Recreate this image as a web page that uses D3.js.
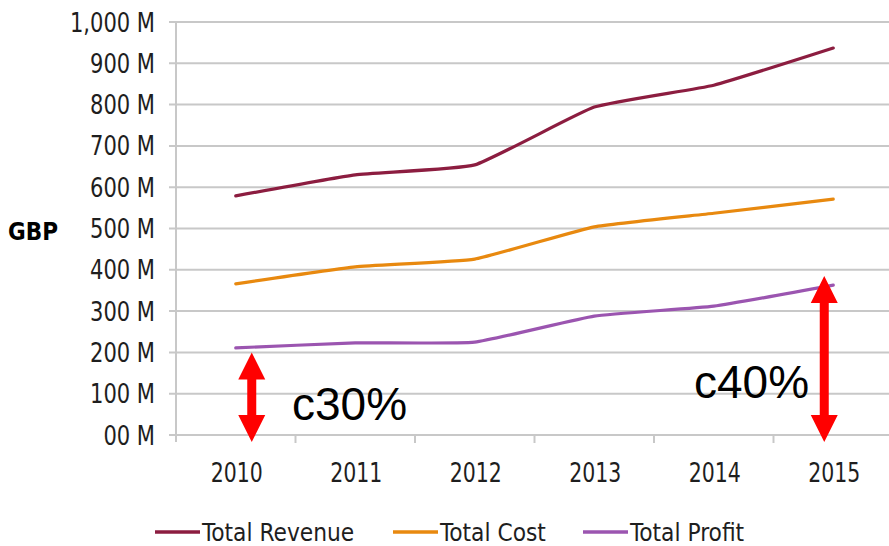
<!DOCTYPE html>
<meta charset="utf-8">
<style>
body { margin: 0; background: #fff; }
text { font-family: "DejaVu Sans Condensed", "DejaVu Sans", sans-serif; fill: #1e1e1e; }
</style>
<body>
<script src="https://d3js.org/d3.v7.min.js"></script>
<script>
var years = ["2010", "2011", "2012", "2013", "2014", "2015"],
	revenue = [579, 630, 654, 794, 847, 937],
	cost = [366, 407, 426, 504, 537, 571],
	profit = [211, 223, 225, 288, 312, 363],
	yTicks = [0, 100, 200, 300, 400, 500, 600, 700, 800, 900, 1000],
	yTickLabels = ["00 M", "100 M", "200 M", "300 M", "400 M", "500 M", "600 M", "700 M", "800 M", "900 M", "1,000 M"],
	seriesNames = ["Total Revenue", "Total Cost", "Total Profit"],
	notes = [{ year: "2010", from: -17, to: 200, label: "c30%" },
	         { year: "2015", from: -17, to: 385, label: "c40%" }];

var width = 889,
	height = 546,
	colors = ["#8c1d40", "#e8890f", "#9b55b0"];

var svg = d3.select("body").append("svg")
			.attr("width", width)
			.attr("height", height);

var x = d3.scaleBand().domain(years).range([176, 893]),
	y = d3.scaleLinear().domain([0, 1000]).range([435, 22]);

function squeeze(px, py, s) {
	return "translate(" + px + "," + py + ") scale(" + s + ",1)";
}

// gridlines
svg.append("g")
	.selectAll("line")
	.data(yTicks)
	.enter().append("line")
	.attr("x1", 169)
	.attr("x2", width)
	.attr("y1", function(d) { return y(d); })
	.attr("y2", function(d) { return y(d); })
	.style("stroke", "#c8c8c8")
	.style("stroke-width", 2);

// axis lines
svg.append("line")
	.attr("x1", 176).attr("x2", 176)
	.attr("y1", y(1000)).attr("y2", y(0) + 7)
	.style("stroke", "#c8c8c8").style("stroke-width", 2);

svg.append("g")
	.selectAll("line")
	.data(years.slice(1))
	.enter().append("line")
	.attr("x1", function(d) { return x(d); })
	.attr("x2", function(d) { return x(d); })
	.attr("y1", y(0))
	.attr("y2", y(0) + 8)
	.style("stroke", "#c8c8c8").style("stroke-width", 2);

// y labels
svg.append("g")
	.selectAll("text")
	.data(yTicks)
	.enter().append("text")
	.attr("transform", function(d) { return squeeze(155, y(d) + 9.5, 0.9); })
	.attr("text-anchor", "end")
	.style("font-size", "26px")
	.text(function(d, i) { return yTickLabels[i]; });

svg.append("text")
	.attr("x", 8)
	.attr("y", 240)
	.style("font-size", "24px")
	.style("font-weight", "bold")
	.style("fill", "#000")
	.text("GBP");

// x labels
svg.append("g")
	.selectAll("text")
	.data(years)
	.enter().append("text")
	.attr("transform", function(d) { return squeeze(x(d) + x.bandwidth() / 2 + 1, 482, 0.875); })
	.attr("text-anchor", "middle")
	.style("font-size", "26px")
	.text(function(d) { return d; });

// lines
var line = d3.line()
	.x(function(d, i) { return x(years[i]) + x.bandwidth() / 2; })
	.y(function(d) { return y(d); })
	.curve(d3.curveCardinal.tension(0.6));

svg.append("g")
	.selectAll("path")
	.data([revenue, cost, profit])
	.enter().append("path")
	.attr("d", line)
	.style("fill", "none")
	.style("stroke", function(d, i) { return colors[i]; })
	.style("stroke-width", 3.2)
	.style("stroke-linecap", "round");

// legend
var legendX = [155, 393, 583];
var lg = svg.append("g")
	.selectAll("g")
	.data(seriesNames)
	.enter().append("g")
	.attr("transform", function(d, i) { return "translate(" + legendX[i] + ",532)"; });

lg.append("line")
	.attr("x1", 0).attr("x2", 45)
	.attr("y1", 0).attr("y2", 0)
	.style("stroke", function(d, i) { return colors[i]; })
	.style("stroke-width", 3.5);

lg.append("text")
	.attr("transform", squeeze(47, 8.5, 0.97))
	.style("font-size", "25px")
	.text(function(d) { return d; });

// arrows
var arrowDx = { "2010": 16, "2015": -9 },
	textX = { "2010": 292, "2015": 694 },
	textY = { "2010": 420, "2015": 398 };

notes.forEach(function(n) {
	var cx = x(n.year) + x.bandwidth() / 2 + arrowDx[n.year],
		top = y(n.to),
		bot = y(n.from),
		hw = 13.5,
		hh = 27,
		sw = 4.5;
	var pts = [
		[cx, top], [cx + hw, top + hh], [cx + sw, top + hh],
		[cx + sw, bot - hh], [cx + hw, bot - hh], [cx, bot],
		[cx - hw, bot - hh], [cx - sw, bot - hh], [cx - sw, top + hh],
		[cx - hw, top + hh]
	];
	svg.append("polygon")
		.attr("points", pts.map(function(p) { return p.join(","); }).join(" "))
		.style("fill", "#ff0000");

	svg.append("text")
		.attr("x", textX[n.year])
		.attr("y", textY[n.year])
		.style("font-family", "'Liberation Sans', Arial, sans-serif")
		.style("font-size", "46px")
		.style("fill", "#000")
		.text(n.label);
});
</script>
</body>
